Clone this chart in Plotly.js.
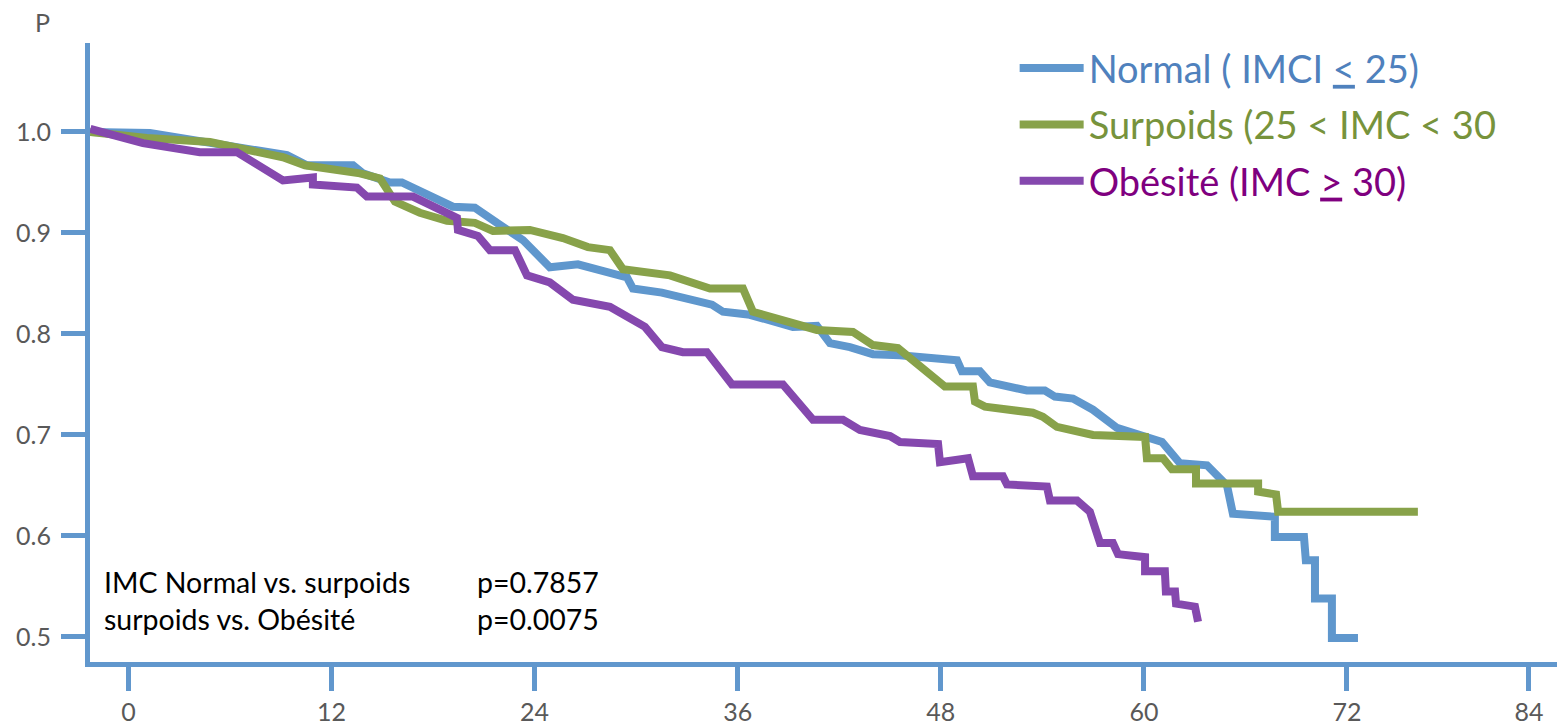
<!DOCTYPE html>
<html>
<head>
<meta charset="utf-8">
<script src="https://cdn.plot.ly/plotly-3.0.1.min.js"></script>
<style>html,body{margin:0;padding:0;background:#fff;}#chart{width:1557px;height:728px;}</style>
</head>
<body>
<div id="chart"></div>
<script>
// Months
const xNormal = [-2.25, 1.27, 9.37, 10.55, 13.27, 13.86, 15.45, 16.16, 19.17, 20.47, 21.95, 23.31, 24.90, 26.56, 29.46, 29.81, 31.52, 34.48, 35.13, 36.72, 39.26, 40.68, 41.45, 42.63, 43.99, 45.58, 48.96, 49.25, 50.31, 50.90, 53.09, 54.15, 54.74, 55.81, 56.99, 58.41, 61.07, 62.13, 63.73, 64.91, 65.26, 67.74, 67.74, 69.46, 69.57, 70.11, 70.11, 71.11, 71.11, 72.65];
const yNormal = [1.000, 0.999, 0.977, 0.967, 0.967, 0.959, 0.950, 0.950, 0.926, 0.925, 0.908, 0.893, 0.866, 0.869, 0.856, 0.845, 0.841, 0.829, 0.822, 0.819, 0.807, 0.808, 0.791, 0.787, 0.780, 0.779, 0.774, 0.763, 0.763, 0.752, 0.744, 0.744, 0.738, 0.736, 0.725, 0.707, 0.693, 0.672, 0.670, 0.650, 0.622, 0.619, 0.599, 0.599, 0.576, 0.576, 0.538, 0.538, 0.499, 0.499];

const xSurpoids = [-2.25, 1.09, 4.82, 6.59, 9.13, 10.43, 13.68, 14.86, 15.75, 17.22, 18.82, 20.47, 21.54, 23.72, 25.67, 27.15, 28.45, 29.22, 32.00, 34.36, 36.31, 36.90, 40.68, 42.81, 43.99, 45.47, 46.95, 48.24, 49.90, 50.02, 50.61, 53.44, 54.03, 54.86, 56.99, 60.07, 60.18, 61.13, 61.66, 63.08, 63.08, 66.75, 66.75, 67.81, 67.93, 76.19];
const ySurpoids = [1.000, 0.994, 0.990, 0.984, 0.975, 0.967, 0.959, 0.954, 0.931, 0.920, 0.912, 0.910, 0.902, 0.903, 0.895, 0.886, 0.883, 0.864, 0.858, 0.845, 0.845, 0.822, 0.804, 0.802, 0.789, 0.786, 0.767, 0.748, 0.748, 0.733, 0.728, 0.722, 0.718, 0.708, 0.700, 0.698, 0.677, 0.677, 0.666, 0.666, 0.652, 0.652, 0.644, 0.641, 0.624, 0.624];

const xObesite = [-2.25, 0.86, 4.22, 6.41, 9.13, 10.90, 10.90, 13.50, 14.09, 16.81, 19.41, 19.47, 20.65, 21.36, 22.84, 23.55, 24.90, 26.26, 28.45, 30.52, 31.52, 32.76, 34.18, 35.66, 38.67, 40.45, 42.22, 43.22, 45.00, 45.59, 47.84, 47.95, 49.61, 49.90, 51.67, 51.91, 54.27, 54.45, 56.05, 56.81, 57.41, 58.17, 58.47, 60.07, 60.07, 61.24, 61.30, 61.84, 61.90, 63.02, 63.20];
const yObesite = [1.003, 0.989, 0.980, 0.980, 0.952, 0.955, 0.948, 0.945, 0.936, 0.936, 0.915, 0.903, 0.897, 0.883, 0.883, 0.858, 0.851, 0.834, 0.827, 0.807, 0.787, 0.782, 0.782, 0.750, 0.750, 0.715, 0.715, 0.705, 0.699, 0.693, 0.691, 0.673, 0.677, 0.659, 0.659, 0.651, 0.649, 0.635, 0.635, 0.624, 0.593, 0.593, 0.582, 0.579, 0.565, 0.565, 0.545, 0.545, 0.533, 0.530, 0.515];

const seriesNames = [
  '<span style="color:#4F81BD">Normal ( IMCI <u>&lt;</u> 25)</span>',
  '<span style="color:#77933C">Surpoids (25 &lt; IMC &lt; 30</span>',
  '<span style="color:#7F007F">Obésité (IMC <u>&gt;</u> 30)</span>'
];
const seriesColors = ['#5F97CD', '#88A24A', '#8548AE'];
// the source figure places its last tick ("84") slightly left of the regular spacing
const xTickVals = [0, 12, 24, 36, 48, 60, 72, 82.75];
const xTickText = ['0', '12', '24', '36', '48', '60', '72', '84'];
const yTicks = [0.5, 0.6, 0.7, 0.8, 0.9, 1.0];
const yTickText = ['0.5', '0.6', '0.7', '0.8', '0.9', '1.0'];
const statLabels = ['IMC Normal vs. surpoids', 'surpoids vs. Obésité'];
const statP = ['p=0.7857', 'p=0.0075'];

const axisColor = '#6197CD';
const xs = [xNormal, xSurpoids, xObesite];
const ys = [yNormal, ySurpoids, yObesite];

const traces = xs.map((x, i) => ({
  x: x, y: ys[i], type: 'scatter', mode: 'lines',
  name: seriesNames[i], legendgroup: 'g' + i,
  line: {color: seriesColors[i], width: 8},
  hoverinfo: 'x+y'
}));

const tickFont = {family: 'Lato, sans-serif', size: 25, color: '#595959'};

const layout = {
  width: 1557, height: 728,
  margin: {l: 90, r: 0, t: 43, b: 66},
  paper_bgcolor: '#fff', plot_bgcolor: '#fff',
  font: {family: 'Lato, "Open Sans", sans-serif', color: '#595959'},
  xaxis: {
    range: [-2.27, 84.41], tickvals: xTickVals, ticktext: xTickText, ticks: 'outside', ticklen: 24, tickwidth: 5, tickcolor: axisColor,
    showline: true, linewidth: 5, linecolor: axisColor, showgrid: false, zeroline: false,
    tickfont: tickFont
  },
  yaxis: {
    range: [0.4752, 1.0881], tickvals: yTicks, ticktext: yTickText, ticks: 'outside', ticklen: 24, tickwidth: 5, tickcolor: axisColor,
    showline: true, linewidth: 5, linecolor: axisColor, showgrid: false, zeroline: false,
    tickfont: tickFont, ticklabelstandoff: 5
  },
  showlegend: true,
  legend: {
    x: 0.6303, y: 1.01, xanchor: 'left', yanchor: 'top',
    font: {family: 'Lato, sans-serif', size: 38},
    bgcolor: 'rgba(0,0,0,0)', tracegroupgap: 4, itemwidth: 64
  },
  annotations: [
    {text: 'P', xref: 'paper', yref: 'paper', x: -0.0325, y: 1.034, xanchor: 'center', yanchor: 'middle', showarrow: false,
     font: {family: 'Lato, sans-serif', size: 25, color: '#595959'}},
    {text: statLabels.join('<br>'), xref: 'paper', yref: 'paper', x: 0.0085, y: 0.10, xanchor: 'left', yanchor: 'middle',
     align: 'left', showarrow: false, font: {family: 'Lato, sans-serif', size: 28.5, color: '#000'}},
    {text: statP.join('<br>'), xref: 'paper', yref: 'paper', x: 0.2625, y: 0.10, xanchor: 'left', yanchor: 'middle',
     align: 'left', showarrow: false, font: {family: 'Lato, sans-serif', size: 28.5, color: '#000'}}
  ]
};

Plotly.newPlot('chart', traces, layout, {displayModeBar: false, staticPlot: true});
</script>
</body>
</html>
